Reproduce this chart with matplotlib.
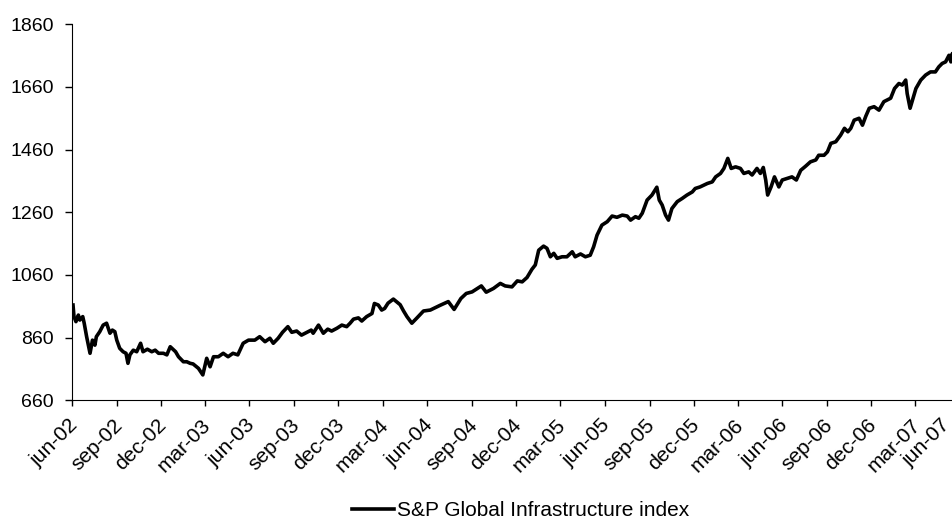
import pandas as pd
import matplotlib
matplotlib.use('Agg')
import matplotlib.pyplot as plt

plt.rcParams['font.family'] = ['Liberation Sans', 'DejaVu Sans']

# index readings
dates = [
    '2002-06-03', '2002-06-05', '2002-06-09', '2002-06-14', '2002-06-17', '2002-06-23', '2002-06-26',
    '2002-07-01', '2002-07-08', '2002-07-13', '2002-07-18', '2002-07-21', '2002-07-28', '2002-08-04',
    '2002-08-11', '2002-08-18', '2002-08-23', '2002-08-28', '2002-09-01', '2002-09-07', '2002-09-14',
    '2002-09-20', '2002-09-24', '2002-09-28', '2002-10-05', '2002-10-12', '2002-10-20', '2002-10-25',
    '2002-11-03', '2002-11-12', '2002-11-19', '2002-11-26', '2002-12-06', '2002-12-13', '2002-12-20',
    '2002-12-31', '2003-01-06', '2003-01-16', '2003-01-23', '2003-01-30', '2003-02-05', '2003-02-16',
    '2003-02-25', '2003-03-05', '2003-03-12', '2003-03-19', '2003-03-29', '2003-04-08', '2003-04-18',
    '2003-04-28', '2003-05-08', '2003-05-19', '2003-05-30', '2003-06-12', '2003-06-22', '2003-07-03',
    '2003-07-13', '2003-07-20', '2003-07-30', '2003-08-08', '2003-08-19', '2003-08-27', '2003-09-06',
    '2003-09-16', '2003-09-27', '2003-10-06', '2003-10-10', '2003-10-21', '2003-10-31', '2003-11-09',
    '2003-11-17', '2003-11-28', '2003-12-08', '2003-12-18', '2003-12-25', '2004-01-01', '2004-01-11',
    '2004-01-18', '2004-01-28', '2004-02-08', '2004-02-13', '2004-02-21', '2004-02-28', '2004-03-05',
    '2004-03-12', '2004-03-23', '2004-04-06', '2004-04-13', '2004-04-20', '2004-04-30', '2004-05-10',
    '2004-05-24', '2004-06-07', '2004-06-27', '2004-07-14', '2004-07-26', '2004-08-09', '2004-08-20',
    '2004-09-01', '2004-09-20', '2004-09-30', '2004-10-15', '2004-10-29', '2004-11-08', '2004-11-22',
    '2004-12-03', '2004-12-13', '2004-12-23', '2005-01-02', '2005-01-09', '2005-01-16', '2005-01-26',
    '2005-02-02', '2005-02-09', '2005-02-16', '2005-02-23', '2005-03-05', '2005-03-15', '2005-03-26',
    '2005-04-01', '2005-04-12', '2005-04-22', '2005-05-02', '2005-05-09', '2005-05-16', '2005-05-26',
    '2005-06-06', '2005-06-16', '2005-06-26', '2005-07-07', '2005-07-17', '2005-07-24', '2005-08-03',
    '2005-08-10', '2005-08-17', '2005-08-27', '2005-09-06', '2005-09-16', '2005-09-21', '2005-09-27',
    '2005-10-04', '2005-10-10', '2005-10-17', '2005-10-28', '2005-11-07', '2005-11-17', '2005-11-28',
    '2005-12-04', '2005-12-14', '2005-12-29', '2006-01-08', '2006-01-15', '2006-01-25', '2006-02-01',
    '2006-02-09', '2006-02-16', '2006-02-25', '2006-03-07', '2006-03-14', '2006-03-24', '2006-03-31',
    '2006-04-10', '2006-04-17', '2006-04-23', '2006-04-28', '2006-05-02', '2006-05-09', '2006-05-16',
    '2006-05-25', '2006-06-01', '2006-06-11', '2006-06-21', '2006-06-30', '2006-07-09', '2006-07-19',
    '2006-07-29', '2006-08-09', '2006-08-15', '2006-08-26', '2006-09-02', '2006-09-09', '2006-09-19',
    '2006-09-29', '2006-10-07', '2006-10-14', '2006-10-20', '2006-10-27', '2006-11-06', '2006-11-13',
    '2006-11-20', '2006-11-27', '2006-12-07', '2006-12-17', '2006-12-27', '2007-01-10', '2007-01-18',
    '2007-01-27', '2007-02-03', '2007-02-10', '2007-02-13', '2007-02-19', '2007-02-24', '2007-03-03',
    '2007-03-13', '2007-03-23', '2007-04-02', '2007-04-12', '2007-04-19', '2007-04-26', '2007-05-03',
    '2007-05-10', '2007-05-14', '2007-05-17', '2007-05-20',
]
values = [
    964, 927, 911, 932, 916, 927, 906,
    863, 810, 852, 836, 863, 879, 900,
    906, 874, 884, 879, 852, 826, 815,
    810, 778, 805, 820, 815, 842, 815,
    823, 815, 820, 810, 810, 805, 831,
    815, 799, 783, 783, 778, 776, 762,
    741, 794, 767, 799, 799, 810, 799,
    810, 805, 842, 852, 852, 863, 847,
    858, 842, 858, 877, 895, 877, 881,
    868, 877, 884, 874, 900, 874, 887,
    881, 890, 900, 895, 906, 919, 923,
    913, 927, 937, 969, 964, 948, 953,
    970, 983, 965, 945, 927, 906, 922,
    945, 948, 963, 975, 950, 985, 1001,
    1006, 1025, 1005, 1017, 1033, 1025, 1022,
    1041, 1038, 1052, 1078, 1092, 1139, 1152,
    1145, 1118, 1129, 1113, 1118, 1118, 1134,
    1118, 1127, 1118, 1123, 1150, 1187, 1219,
    1230, 1248, 1244, 1251, 1248, 1235, 1246,
    1241, 1257, 1299, 1315, 1340, 1299, 1283,
    1251, 1235, 1272, 1294, 1304, 1315, 1325,
    1336, 1341, 1352, 1357, 1373, 1384, 1400,
    1432, 1400, 1405, 1400, 1384, 1389, 1379,
    1400, 1384, 1403, 1363, 1315, 1341, 1373,
    1341, 1363, 1368, 1373, 1363, 1394, 1407,
    1421, 1427, 1442, 1442, 1453, 1480, 1485,
    1506, 1528, 1517, 1528, 1554, 1560, 1538,
    1567, 1592, 1597, 1586, 1613, 1624, 1655,
    1671, 1666, 1682, 1639, 1592, 1618, 1655,
    1682, 1698, 1708, 1708, 1724, 1735, 1740,
    1761, 1740, 1767, 1710,
]

tick_dates = ['2002-06-01', '2002-09-01', '2002-12-01', '2003-03-01', '2003-06-01', '2003-09-01',
              '2003-12-01', '2004-03-01', '2004-06-01', '2004-09-01', '2004-12-01', '2005-03-01',
              '2005-06-01', '2005-09-01', '2005-12-01', '2006-03-01', '2006-06-01', '2006-09-01',
              '2006-12-01', '2007-03-01', '2007-06-01']
tick_labels = ['jun-02', 'sep-02', 'dec-02', 'mar-03', 'jun-03', 'sep-03', 'dec-03', 'mar-04',
               'jun-04', 'sep-04', 'dec-04', 'mar-05', 'jun-05', 'sep-05', 'dec-05', 'mar-06',
               'jun-06', 'sep-06', 'dec-06', 'mar-07', 'jun-07']
y_ticks = [660, 860, 1060, 1260, 1460, 1660, 1860]

df = pd.DataFrame({'t': pd.to_datetime(dates), 'v': values})
ticks = pd.to_datetime(tick_dates)

fig = plt.figure(figsize=(9.53, 5.29), dpi=100)
ax = fig.add_axes([0.0756, 0.2433, 0.9314, 0.7108])

ax.plot(df['t'], df['v'], color='black', lw=2.6, label='S&P Global Infrastructure index')

ax.set_xlim(ticks[0], ticks[-1])
ax.set_ylim(660, 1860)
ax.set_yticks(y_ticks)
ax.set_xticks(ticks)
ax.set_xticklabels([])

# date labels drawn by hand so they can sit a bit left of the tick like the original
for i, (t, lab) in enumerate(zip(ticks, tick_labels)):
    dx = -3 if i < len(ticks) - 1 else -14
    ax.annotate(lab, xy=(t, 0), xycoords=('data', 'axes fraction'),
                xytext=(dx, -11), textcoords='offset points',
                rotation=45, ha='right', va='top', rotation_mode='anchor',
                fontsize=15, annotation_clip=False)

for s in ['top', 'right']:
    ax.spines[s].set_visible(False)
ax.tick_params(axis='y', length=5, width=1, pad=8, labelsize=14)
ax.tick_params(axis='x', length=4.5, width=1)

fig.legend(loc='center', bbox_to_anchor=(521 / 953, 1 - 511 / 529), frameon=False,
           fontsize=15, handlelength=2.0, handletextpad=0.15)

plt.savefig('out.png', dpi=100)
